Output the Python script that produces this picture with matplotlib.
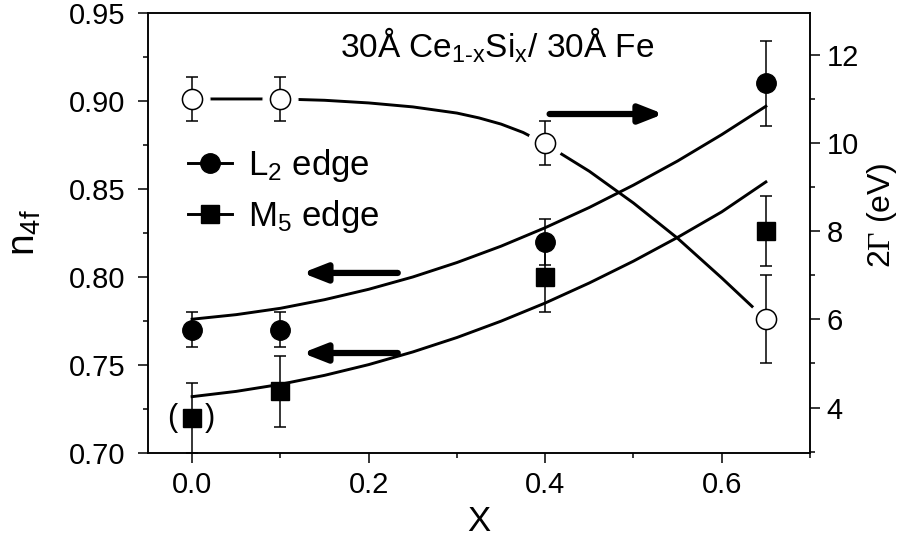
import matplotlib
matplotlib.use('Agg')
import matplotlib.pyplot as plt
from matplotlib.lines import Line2D
from matplotlib.ticker import MultipleLocator

plt.rcParams['font.family'] = ['Liberation Sans', 'DejaVu Sans']
plt.rcParams['mathtext.fontset'] = 'custom'
plt.rcParams['mathtext.rm'] = 'Liberation Serif'
plt.rcParams['mathtext.default'] = 'regular'

# measured points
x_pts = [0.0, 0.1, 0.4, 0.65]
l2_n4f = [0.770, 0.770, 0.820, 0.910]
l2_err = [0.010, 0.010, 0.013, 0.024]
m5_n4f = [0.720, 0.735, 0.800, 0.826]
m5_err = [0.020, 0.020, 0.020, 0.020]
gamma = [11.0, 11.0, 10.0, 6.0]
gamma_err = [0.5, 0.5, 0.5, 1.0]

# guide curves
fit_x = [0.0, 0.05, 0.1, 0.15, 0.2, 0.25, 0.3, 0.35, 0.4, 0.45, 0.5, 0.55, 0.6, 0.65]
l2_fit = [0.776, 0.7786, 0.7822, 0.7871, 0.7930, 0.8000, 0.8082, 0.8175, 0.828,
          0.8395, 0.8522, 0.8659, 0.8809, 0.897]
m5_fit = [0.732, 0.7350, 0.7390, 0.7441, 0.7502, 0.7574, 0.7656, 0.7749, 0.7852,
          0.7966, 0.8090, 0.8225, 0.8370, 0.854]
gamma_fit_x = [0.0, 0.05, 0.1, 0.15, 0.2, 0.25, 0.3, 0.325, 0.35, 0.375, 0.4,
               0.45, 0.5, 0.55, 0.6, 0.65]
gamma_fit = [11.0, 11.0, 11.0, 10.97, 10.91, 10.82, 10.68, 10.57, 10.43, 10.24, 9.98,
             9.36, 8.64, 7.84, 6.94, 6.0]

FS = 21
LW = 2.1

fig = plt.figure(figsize=(9, 5.39), dpi=100)
ax = fig.add_axes([0.1644, 0.1596, 0.7356, 0.8163])
ax2 = ax.twinx()

# left axis: n4f
ax.plot(fit_x, l2_fit, color='k', lw=LW, zorder=2)
ax.plot(fit_x, m5_fit, color='k', lw=LW, zorder=2)
ax.errorbar(x_pts, l2_n4f, yerr=l2_err, fmt='o', color='k', ms=14,
            elinewidth=1.1, capsize=4.5, capthick=1.1, zorder=4)
ax.errorbar(x_pts, m5_n4f, yerr=m5_err, fmt='s', color='k', ms=12.5,
            elinewidth=1.1, capsize=4.5, capthick=1.1, zorder=4)

# brackets around the first M5 point
ax.annotate('(', xy=(x_pts[0], m5_n4f[0]), xytext=(-14, 0), textcoords='offset points',
            ha='center', va='center', fontsize=FS + 1)
ax.annotate(')', xy=(x_pts[0], m5_n4f[0]), xytext=(13, 0), textcoords='offset points',
            ha='center', va='center', fontsize=FS + 1)

ax.set_xlim(-0.05, 0.7)
ax.set_ylim(0.70, 0.95)
ax.xaxis.set_major_locator(MultipleLocator(0.2))
ax.xaxis.set_minor_locator(MultipleLocator(0.1))
ax.yaxis.set_major_locator(MultipleLocator(0.05))
ax.yaxis.set_minor_locator(MultipleLocator(0.025))
ax.set_yticklabels([f'{v:.2f}' for v in ax.get_yticks()])
ax.set_xticklabels([f'{v:.1f}' for v in ax.get_xticks()])
ax.tick_params(which='major', direction='out', length=7, width=1.1, labelsize=FS)
ax.tick_params(axis='y', which='major', pad=9)
ax.tick_params(axis='x', which='major', pad=6)
ax.tick_params(which='minor', direction='out', length=3.5, width=1.1)
ax.set_xlabel('X', fontsize=25, labelpad=4)
ax.set_ylabel('$n_{4f}$', fontsize=28)
ax.yaxis.set_label_coords(-0.158, 0.5)

# right axis: 2 Gamma
ax2.plot(gamma_fit_x, gamma_fit, color='k', lw=LW, zorder=2)
ax2.plot(x_pts, gamma, 'o', color='white', ms=25, zorder=3)
ax2.errorbar(x_pts, gamma, yerr=gamma_err, fmt='none', ecolor='k',
             elinewidth=1.1, capsize=4.5, capthick=1.1, zorder=4)
ax2.plot(x_pts, gamma, 'o', mfc='white', mec='k', mew=1.1, ms=14.5, zorder=5)
ax2.set_ylim(2.97, 12.95)
ax2.yaxis.set_major_locator(MultipleLocator(2))
ax2.yaxis.set_minor_locator(MultipleLocator(1))
ax2.tick_params(which='major', direction='out', length=7, width=1.1, labelsize=FS, pad=5)
ax2.tick_params(which='minor', direction='out', length=3.5, width=1.1)
ax2.set_ylabel(r'2$\mathrm{\Gamma}$ (eV)', fontsize=23)
ax2.yaxis.set_label_coords(1.083, 0.54)

for a in (ax, ax2):
    for s in a.spines.values():
        s.set_linewidth(1.1)

# arrows pointing to the relevant axis
arrow = dict(arrowstyle='-|>,head_length=1.4,head_width=0.55', color='k', lw=4.5,
             shrinkA=0, shrinkB=0)
ax.annotate('', xy=(0.534, 0.8926), xytext=(0.405, 0.8926), arrowprops=arrow)
ax.annotate('', xy=(0.125, 0.8023), xytext=(0.233, 0.8023), arrowprops=arrow)
ax.annotate('', xy=(0.125, 0.7568), xytext=(0.233, 0.7568), arrowprops=arrow)

ax.text(0.29, 0.927, '30Å Ce$_{1\u2010x}$Si$_x$/ 30Å Fe', transform=ax.transAxes,
        ha='left', va='center', fontsize=24)

handles = [Line2D([], [], color='k', lw=LW, marker='o', ms=14),
           Line2D([], [], color='k', lw=LW, marker='s', ms=12.5)]
ax.legend(handles, ['L$_2$ edge', 'M$_5$ edge'], loc='upper left',
          bbox_to_anchor=(0.035, 0.735), frameon=False, fontsize=25,
          handlelength=1.25, handletextpad=0.45, borderpad=0, labelspacing=0.4)

plt.savefig('out.png', dpi=100)
